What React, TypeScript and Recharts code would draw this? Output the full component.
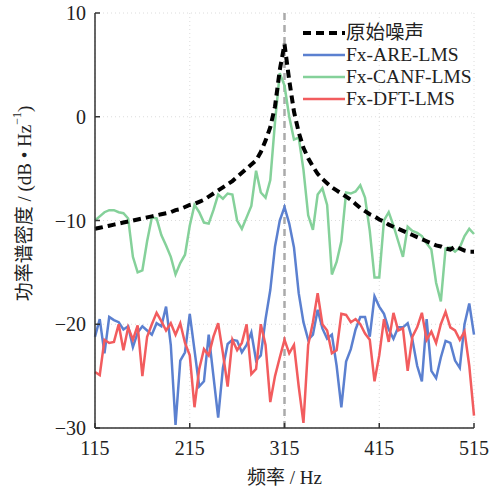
import {
	CartesianGrid,
	Legend,
	Line,
	LineChart,
	ReferenceLine,
	XAxis,
	YAxis,
} from "recharts";

const FREQ = [
	115, 120, 125, 130, 135, 140, 145, 150, 155, 160,
	165, 170, 175, 180, 185, 190, 195, 200, 205, 210,
	215, 220, 225, 230, 235, 240, 245, 250, 255, 260,
	265, 270, 275, 280, 285, 290, 295, 300, 305, 310,
	315, 320, 325, 330, 335, 340, 345, 350, 355, 360,
	365, 370, 375, 380, 385, 390, 395, 400, 405, 410,
	415, 420, 425, 430, 435, 440, 445, 450, 455, 460,
	465, 470, 475, 480, 485, 490, 495, 500, 505, 510,
	515,
];

const ORIGINAL = [
	-10.8, -10.7, -10.6, -10.5, -10.4, -10.3, -10.2, -10.1, -10.0, -9.9,
	-9.8, -9.7, -9.6, -9.5, -9.4, -9.3, -9.2, -9.0, -8.9, -8.7,
	-8.5, -8.4, -8.2, -8.0, -7.7, -7.4, -7.1, -6.8, -6.5, -6.2,
	-5.8, -5.4, -5.0, -4.6, -4.2, -3.4, -2.3, -1.0, 1.0, 4.5,
	7.0, 3.5, 0.5, -1.5, -3.0, -4.0, -4.8, -5.5, -6.0, -6.4,
	-6.8, -7.1, -7.4, -7.7, -8.0, -8.4, -8.8, -9.1, -9.4, -9.6,
	-9.9, -10.1, -10.4, -10.6, -10.8, -11.0, -11.2, -11.4, -11.6, -11.8,
	-12.0, -12.2, -12.4, -12.5, -12.7, -12.8, -12.5, -12.7, -12.9, -13.0,
	-13.0,
];

const ARE = [
	-21.2, -19.5, -22.8, -19.3, -19.6, -19.8, -20.5, -20.2, -22.2, -20.8,
	-20.2, -20.6, -21.0, -19.9, -20.2, -18.3, -22.0, -29.7, -23.5, -22.7,
	-19.0, -22.5, -26.0, -25.5, -21.0, -25.0, -29.0, -24.2, -21.9, -21.5,
	-21.6, -22.7, -22.0, -20.8, -23.5, -23.0, -19.5, -16.7, -12.5, -10.0,
	-8.7, -10.3, -12.6, -17.0, -19.8, -21.5, -21.0, -18.6, -20.4, -21.4,
	-21.0, -24.0, -28.0, -23.6, -22.4, -20.5, -19.3, -19.3, -21.2, -17.3,
	-18.3, -19.0, -20.5, -21.4, -20.3, -20.3, -19.9, -21.5, -24.0, -25.5,
	-19.5, -24.5, -25.2, -23.2, -21.6, -21.8, -23.5, -24.2, -20.0, -18.0,
	-21.0,
];

const CANF = [
	-10.0, -9.6, -9.2, -9.0, -9.0, -9.2, -9.3, -9.8, -13.5, -15.0,
	-14.8, -12.0, -9.7, -9.8, -11.4, -12.4, -13.5, -15.2, -14.1, -13.3,
	-10.5, -8.5, -9.2, -10.2, -10.3, -9.0, -7.5, -7.9, -7.4, -7.5,
	-10.0, -10.8, -9.7, -8.6, -5.2, -7.3, -7.8, -6.1, -0.5, 4.2,
	3.0, 0.0, -2.2, -2.0, -5.1, -9.5, -10.9, -7.5, -6.9, -8.5,
	-15.2, -14.0, -12.0, -7.3, -7.4, -7.2, -6.6, -7.8, -11.0, -15.5,
	-15.5, -10.0, -9.2, -10.5, -12.0, -13.5, -10.6, -11.0, -11.2, -11.5,
	-12.2, -12.8, -16.0, -17.8, -12.7, -12.6, -13.0, -12.6, -11.5, -10.8,
	-11.3,
];

const DFT = [
	-24.6, -24.9, -21.5, -21.8, -21.7, -20.0, -22.5, -20.3, -21.5, -20.1,
	-25.0, -21.2, -20.0, -18.9, -19.7, -20.6, -19.9, -21.0, -19.9, -21.8,
	-23.0, -28.0, -24.3, -22.4, -23.0, -21.2, -19.9, -22.8, -26.0, -21.5,
	-22.5, -21.8, -20.0, -24.8, -24.3, -20.0, -22.0, -27.5, -25.0, -23.2,
	-21.5, -22.8, -22.0, -26.0, -29.5, -22.0, -19.8, -17.0, -20.0, -20.6,
	-22.8, -22.5, -19.0, -19.1, -19.8, -19.5, -20.0, -20.9, -21.5, -25.5,
	-23.0, -19.5, -21.7, -18.9, -20.6, -20.4, -24.5, -21.2, -20.3, -18.9,
	-21.5, -20.7, -21.8, -20.0, -18.8, -20.3, -20.6, -21.5, -20.7, -24.0,
	-28.8,
];

const X_TICKS = [115, 215, 315, 415, 515];
const Y_TICKS = [-30, -20, -10, 0, 10];

const SERIES = [
	{ key: "original", name: "原始噪声", color: "#000000", width: 4, dash: "8 5" },
	{ key: "are", name: "Fx-ARE-LMS", color: "#5b80d0", width: 2.5, dash: undefined },
	{ key: "canf", name: "Fx-CANF-LMS", color: "#85d19a", width: 2.5, dash: undefined },
	{ key: "dft", name: "Fx-DFT-LMS", color: "#f25c5e", width: 2.5, dash: undefined },
];

const data = FREQ.map((f, i) => ({
	f,
	original: ORIGINAL[i],
	are: ARE[i],
	canf: CANF[i],
	dft: DFT[i],
}));

const SERIF = "'Liberation Serif', 'Times New Roman', 'Noto Sans CJK SC', serif";
const AXIS = "#333";

const fmt = (v: number) => (v < 0 ? "\u2212" + Math.abs(v) : String(v));

const XTick = ({ x, y, payload }: any) => (
	<g>
		<line x1={x} x2={x} y1={y - 13} y2={y - 18} stroke={AXIS} strokeWidth={1.5} />
		<text x={x} y={y} dy="0.71em" textAnchor="middle" fontFamily={SERIF} fontSize={20} fill="#222">
			{payload.value}
		</text>
	</g>
);

const YTick = ({ x, y, payload }: any) => (
	<g>
		<line x1={x + 9} x2={x + 14} y1={y} y2={y} stroke={AXIS} strokeWidth={1.5} />
		<text x={x} y={y} dy="0.355em" textAnchor="end" fontFamily={SERIF} fontSize={20} fill="#222">
			{fmt(payload.value)}
		</text>
	</g>
);

const XLabel = ({ viewBox }: any) => (
	<text
		x={viewBox.x + viewBox.width / 2}
		y={viewBox.y + 49}
		textAnchor="middle"
		dominantBaseline="central"
		fontFamily={SERIF}
		fontSize={19}
		fill="#222"
	>
		频率 / Hz
	</text>
);

const YLabel = ({ viewBox }: any) => {
	const cx = viewBox.x + 24;
	const cy = viewBox.y + viewBox.height / 2 - 17;
	return (
		<text
			x={cx}
			y={cy}
			transform={`rotate(-90 ${cx} ${cy})`}
			textAnchor="middle"
			dominantBaseline="central"
			fontFamily={SERIF}
			fontSize={19}
			fill="#222"
		>
			功率谱密度 / (dB • Hz
			<tspan dy={-7} fontSize={12}>
				−1
			</tspan>
			<tspan dy={7}>)</tspan>
		</text>
	);
};

const LegendBox = () => (
	<div style={{ fontFamily: SERIF, fontSize: 19.5, color: "#222", lineHeight: "22px" }}>
		{SERIES.map((s) => (
			<div key={s.key} style={{ display: "flex", alignItems: "center", whiteSpace: "nowrap" }}>
				<svg width={42} height={10} style={{ marginRight: 1 }}>
					<line
						x1={0}
						x2={42}
						y1={5}
						y2={5}
						stroke={s.color}
						strokeWidth={s.width}
						strokeDasharray={s.dash}
					/>
				</svg>
				<span>{s.name}</span>
			</div>
		))}
	</div>
);

export default function App() {
	return (
		<div style={{ position: "absolute", left: 0, top: 0, background: "#fff" }}>
			<LineChart
				width={493}
				height={489}
				data={data}
				margin={{ top: 13, right: 19, bottom: 0, left: 0 }}
			>
				<CartesianGrid stroke="#dcdcdc" strokeDasharray="1 3" />
				<XAxis
					dataKey="f"
					type="number"
					domain={[115, 515]}
					ticks={X_TICKS}
					height={61}
					tickSize={0}
					tickMargin={13}
					tickLine={false}
					axisLine={{ stroke: AXIS, strokeWidth: 1.5 }}
					tick={<XTick />}
					label={{ content: <XLabel /> }}
					interval={0}
				/>
				<XAxis
					xAxisId="top"
					dataKey="f"
					type="number"
					domain={[115, 515]}
					orientation="top"
					height={0}
					tick={false}
					tickLine={false}
					axisLine={{ stroke: AXIS, strokeWidth: 1.5 }}
				/>
				<YAxis
					type="number"
					domain={[-30, 10]}
					ticks={Y_TICKS}
					width={95}
					tickSize={0}
					tickMargin={9}
					tickLine={false}
					axisLine={{ stroke: AXIS, strokeWidth: 1.5 }}
					tick={<YTick />}
					label={{ content: <YLabel /> }}
					interval={0}
				/>
				<YAxis
					yAxisId="right"
					orientation="right"
					type="number"
					domain={[-30, 10]}
					width={0}
					tick={false}
					tickLine={false}
					axisLine={{ stroke: AXIS, strokeWidth: 1.5 }}
				/>
				<ReferenceLine x={315} stroke="#aaaaaa" strokeWidth={2.5} strokeDasharray="7 5" />
				<Line dataKey="are" stroke="#5b80d0" strokeWidth={2.5} dot={false} isAnimationActive={false} />
				<Line dataKey="dft" stroke="#f25c5e" strokeWidth={2.5} dot={false} isAnimationActive={false} />
				<Line dataKey="canf" stroke="#85d19a" strokeWidth={2.5} dot={false} isAnimationActive={false} />
				<Line
					dataKey="original"
					stroke="#000"
					strokeWidth={4}
					strokeDasharray="8 5"
					dot={false}
					isAnimationActive={false}
				/>
				<Legend
					layout="horizontal"
					verticalAlign="middle"
					align="center"
					content={<LegendBox />}
					wrapperStyle={{ top: 22, left: 303, width: 185 }}
				/>
			</LineChart>
		</div>
	);
}
